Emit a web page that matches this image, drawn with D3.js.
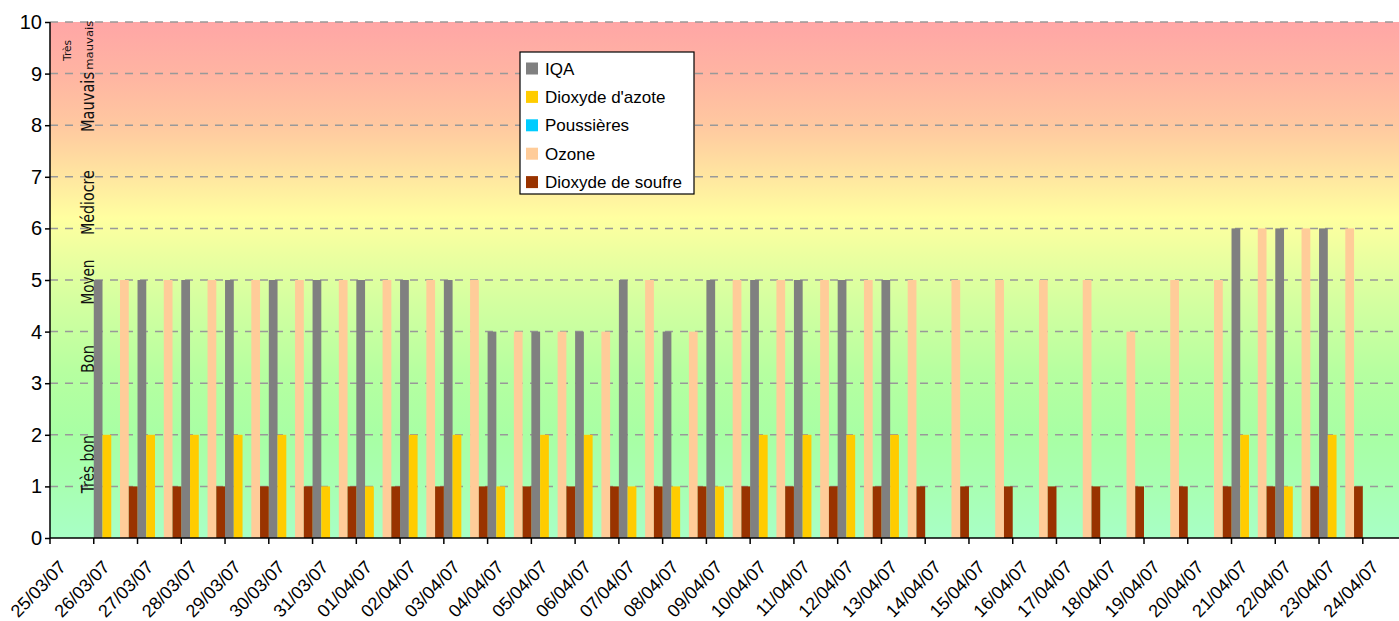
<!DOCTYPE html>
<html>
<head>
<meta charset="utf-8">
<script src="https://cdn.jsdelivr.net/npm/d3@7"></script>
<style>
  body { margin: 0; background: #fff; overflow: hidden; }
  svg { display: block; font-family: "Liberation Sans", Arial, sans-serif; }
</style>
</head>
<body>
<div id="chart"></div>
<script>
// data
const dates = ["25/03/07","26/03/07","27/03/07","28/03/07","29/03/07","30/03/07","31/03/07",
  "01/04/07","02/04/07","03/04/07","04/04/07","05/04/07","06/04/07","07/04/07","08/04/07",
  "09/04/07","10/04/07","11/04/07","12/04/07","13/04/07","14/04/07","15/04/07","16/04/07",
  "17/04/07","18/04/07","19/04/07","20/04/07","21/04/07","22/04/07","23/04/07","24/04/07"];

const iqa = [null,5,5,5,5,5,5,5,5,5,4,4,4,5,4,5,5,5,5,5,null,null,null,null,null,null,null,6,6,6,null];
const no2 = [null,2,2,2,2,2,1,1,2,2,1,2,2,1,1,1,2,2,2,2,null,null,null,null,null,null,null,2,1,2,null];
const poussieres = dates.map(() => null); // no values in the picture
const ozone = [null,5,5,5,5,5,5,5,5,5,4,4,4,5,4,5,5,5,5,5,5,5,5,5,4,5,5,6,6,6,null];
const so2 = [null,1,1,1,1,1,1,1,1,1,1,1,1,1,1,1,1,1,1,1,1,1,1,1,1,1,1,1,1,1,null];

const seriesNames = ["IQA", "Dioxyde d'azote", "Poussières", "Ozone", "Dioxyde de soufre"];
const seriesValues = [iqa, no2, poussieres, ozone, so2];
const colors = ["#808080", "#FFCC00", "#00CCFF", "#FFCC99", "#993300"];
const yTicks = [0,1,2,3,4,5,6,7,8,9,10];

// quality zones (label, value where it is centred)
const zones = [
  { label: "Très bon", v: 1.43, len: 58 },
  { label: "Bon", v: 3.47, len: 28 },
  { label: "Moyen", v: 4.96, len: 45 },
  { label: "Médiocre", v: 6.5, len: 65 },
  { label: "Mauvais", v: 8.45, len: 60 }
];

let width = 1399, height = 621,
    margin = ({ top: 22, left: 50, bottom: 83 });
const step = 43.76;

const svg = d3.select("#chart").append("svg")
  .attr("width", width).attr("height", height);

const x = d3.scaleBand()
  .domain(dates)
  .range([margin.left, margin.left + step * dates.length])
  .paddingInner(0).paddingOuter(0);

const xs = d3.scaleBand()
  .domain(seriesNames)
  .range([0, x.bandwidth()]);

const y = d3.scaleLinear()
  .domain([0, 10])
  .range([height - margin.bottom, margin.top]);

// background gradient
const defs = svg.append("defs");
const grad = defs.append("linearGradient")
  .attr("id", "bg").attr("x1", 0).attr("y1", 1).attr("x2", 0).attr("y2", 0);
[[0, "#A8FFC6"], [0.1, "#A8FFB2"], [0.2, "#A8FFA4"], [0.32, "#B6FFA0"], [0.45, "#D2FFA0"],
 [0.55, "#ECFFA0"], [0.62, "#FFFFA0"], [0.7, "#FFE6A0"], [0.8, "#FFC8A0"], [0.9, "#FFB4A2"], [1, "#FFA6A6"]]
  .forEach(s => grad.append("stop").attr("offset", s[0]).attr("stop-color", s[1]));

svg.append("rect")
  .attr("x", margin.left).attr("y", y(10))
  .attr("width", width - margin.left).attr("height", y(0) - y(10))
  .attr("fill", "url(#bg)");

// grid
svg.append("g")
  .selectAll("line")
  .data(yTicks.filter(d => d > 0))
  .join("line")
  .attr("x1", margin.left).attr("x2", width)
  .attr("y1", d => y(d)).attr("y2", d => y(d))
  .attr("stroke", "#999").attr("stroke-width", 1.5)
  .attr("stroke-dasharray", "8,7");

// zone labels
const narrow = "'Liberation Sans Narrow', 'DejaVu Sans Condensed', sans-serif";
svg.append("g")
  .selectAll("text")
  .data(zones)
  .join("text")
  .attr("transform", d => `translate(88,${y(d.v)}) rotate(-90)`)
  .attr("text-anchor", "middle")
  .attr("dy", "0.35em")
  .attr("font-family", narrow)
  .attr("font-size", 17)
  .attr("textLength", d => d.len)
  .attr("lengthAdjust", "spacingAndGlyphs")
  .attr("fill", "#111")
  .text(d => d.label);

svg.append("text")
  .attr("transform", `translate(67,${y(9.45)}) rotate(-90)`)
  .attr("text-anchor", "middle").attr("dy", "0.35em")
  .attr("font-family", narrow)
  .attr("font-size", 11).attr("textLength", 21).attr("lengthAdjust", "spacingAndGlyphs")
  .attr("fill", "#111").text("Très");
svg.append("text")
  .attr("transform", `translate(89,${y(9.55)}) rotate(-90)`)
  .attr("text-anchor", "middle").attr("dy", "0.35em")
  .attr("font-family", narrow)
  .attr("font-size", 11).attr("textLength", 49).attr("lengthAdjust", "spacingAndGlyphs")
  .attr("fill", "#111").text("mauvais");

// bars
svg.append("g")
  .selectAll("g")
  .data(seriesNames.map((name, i) => ({ name, i })))
  .join("g")
  .attr("fill", d => colors[d.i])
  .selectAll("rect")
  .data(d => dates.map((date, j) => ({ date, name: d.name, v: seriesValues[d.i][j] })).filter(e => e.v != null))
  .join("rect")
  .attr("x", d => x(d.date) + xs(d.name))
  .attr("y", d => y(d.v))
  .attr("width", xs.bandwidth())
  .attr("height", d => y(0) - y(d.v));

// y axis
svg.append("g")
  .attr("transform", `translate(${margin.left},0)`)
  .call(d3.axisLeft(y).tickValues(yTicks).tickSize(5).tickPadding(3))
  .call(g => g.select(".domain").attr("stroke", "#000").attr("stroke-width", 1.5).attr("d", `M0,${y(0)}V${y(10)}`))
  .call(g => g.selectAll(".tick line").attr("stroke", "#000").attr("stroke-width", 1.5))
  .call(g => g.selectAll("text").attr("font-size", 20).attr("fill", "#000")
    .attr("font-family", "'Liberation Sans', Arial, sans-serif"));

// x axis: labels sit on the left edge of each day
svg.append("g")
  .attr("transform", `translate(${-x.bandwidth() / 2},${y(0)})`)
  .call(d3.axisBottom(x).tickSize(6).tickSizeOuter(0))
  .call(g => g.select(".domain").remove())
  .call(g => g.selectAll(".tick line").attr("stroke", "#000").attr("stroke-width", 1.5))
  .call(g => g.selectAll("text")
    .attr("font-size", 18).attr("fill", "#000")
    .attr("font-family", "'Liberation Sans', Arial, sans-serif")
    .attr("text-anchor", "end")
    .attr("dy", 0).attr("y", 0)
    .attr("transform", "translate(17,30) rotate(-46)"));

svg.append("line")
  .attr("x1", margin.left).attr("x2", width)
  .attr("y1", y(0)).attr("y2", y(0))
  .attr("stroke", "#000").attr("stroke-width", 1.5);

// legend
const legend = svg.append("g").attr("transform", "translate(520,52)");
legend.append("rect")
  .attr("width", 174).attr("height", 142)
  .attr("fill", "#fff").attr("stroke", "#000").attr("stroke-width", 1.2);
const item = legend.selectAll("g")
  .data(seriesNames)
  .join("g")
  .attr("transform", (d, i) => `translate(0,${16.5 + i * 28.4})`);
item.append("rect")
  .attr("x", 6).attr("y", -6).attr("width", 12).attr("height", 12)
  .attr("fill", (d, i) => colors[i]);
item.append("text")
  .attr("x", 25).attr("dy", "0.36em")
  .attr("font-size", 17).attr("fill", "#000")
  .text(d => d);
</script>
</body>
</html>
